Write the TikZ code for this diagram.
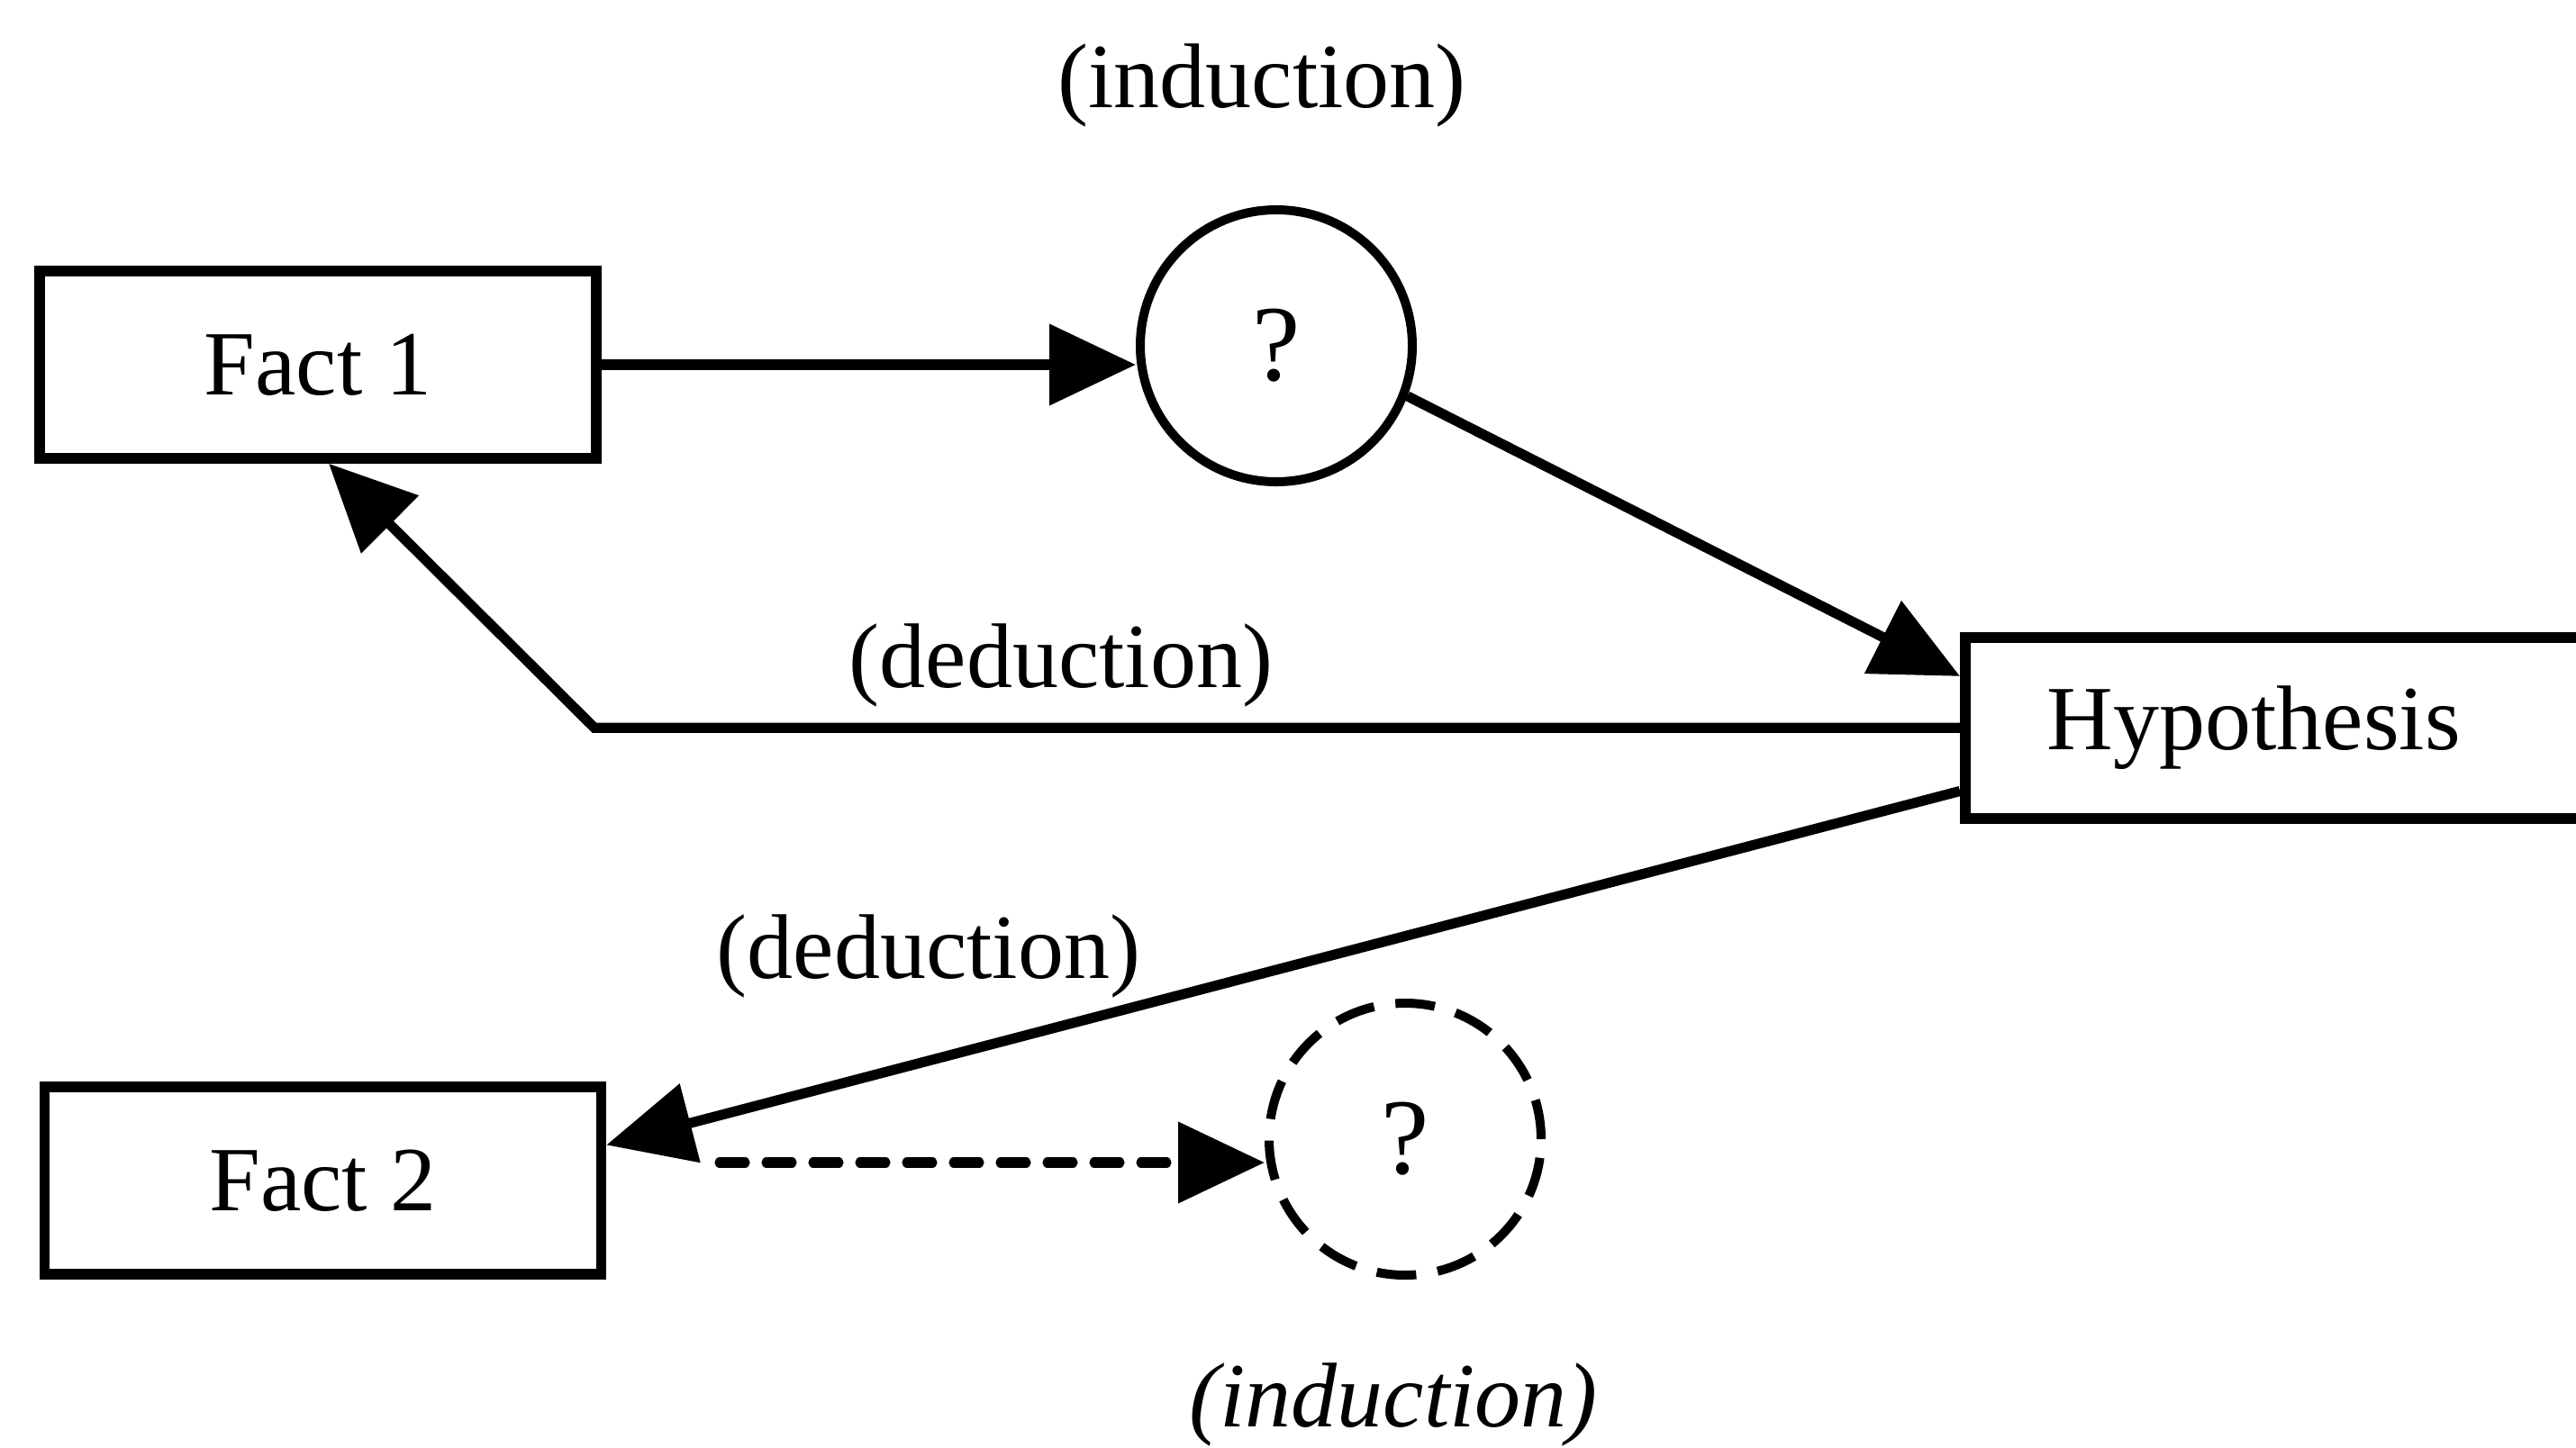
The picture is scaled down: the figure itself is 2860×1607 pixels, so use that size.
\documentclass[tikz,border=0pt]{standalone}
\usepackage{fontspec}
\setmainfont{Liberation Serif}
\usetikzlibrary{arrows.meta,calc}
\begin{document}
\begin{tikzpicture}[x=0.25pt,y=-0.25pt,
  txt/.style={font=\fontsize{25.5pt}{30pt}\selectfont},
  lbl/.style={txt, inner sep=0pt},
  factbox/.style={draw, txt, line width=2.9pt, minimum width=154.5pt,
    minimum height=52pt, inner sep=0pt},
  hypbox/.style={draw, txt, line width=2.9pt, minimum height=50.25pt,
    text width=129.5pt, inner xsep=22.75pt, inner ysep=0pt, align=left},
  unknown/.style={circle, draw, line width=2.5pt, minimum size=75.5pt, inner sep=0pt,
    font=\fontsize{30pt}{34pt}\selectfont},
  guess/.style={unknown, dash pattern=on 11pt off 6pt},
  link/.style={line width=2.8pt, -{Triangle[length=24pt,width=22pt]}},
  tentative/.style={link, line cap=round, dash pattern=on 7pt off 6pt}
]
\useasboundingbox (0,0) rectangle (2860,1607);
\clip (0,0) rectangle (2860,1607);

% boxes and circles
\node[factbox] (fact1) at (353,405) {Fact 1};
\node[factbox] (fact2) at (358.5,1311) {Fact 2};
\node[unknown] (q1) at (1417,384) {?};
\node[guess] (q2) at (1560,1265) {?};
\node[hypbox, anchor=north west] (hyp) at (2176,702) {Hypothesis};

% labels
\node[lbl] (indtop) at (1401,95) {(induction)};
\node[lbl] (dedtop) at (1178,739) {(deduction)};
\node[lbl] (dedlow) at (1031,1062) {(deduction)};
\node[lbl, font=\fontsize{25.5pt}{30pt}\selectfont\itshape] (indlow) at (1547,1560) {(induction)};

% connectors
\draw[link] (fact1.east) -- (fact1.east -| q1.west);
\draw[link] (q1.-21) -- ($(hyp.north west)!0.23!(hyp.south west)$);
\coordinate (kink) at (660,804);
\draw[link] (hyp.west) -- (hyp.west -| kink) -- ([xshift=3pt]fact1.south);
\draw[link] ($(hyp.north west)!0.83!(hyp.south west)$) -- ($(fact2.north east)!0.32!(fact2.south east)$);
\coordinate (dstart) at (799,1291);
\draw[tentative] (dstart) -- (dstart -| q2.west);
\end{tikzpicture}
\end{document}
